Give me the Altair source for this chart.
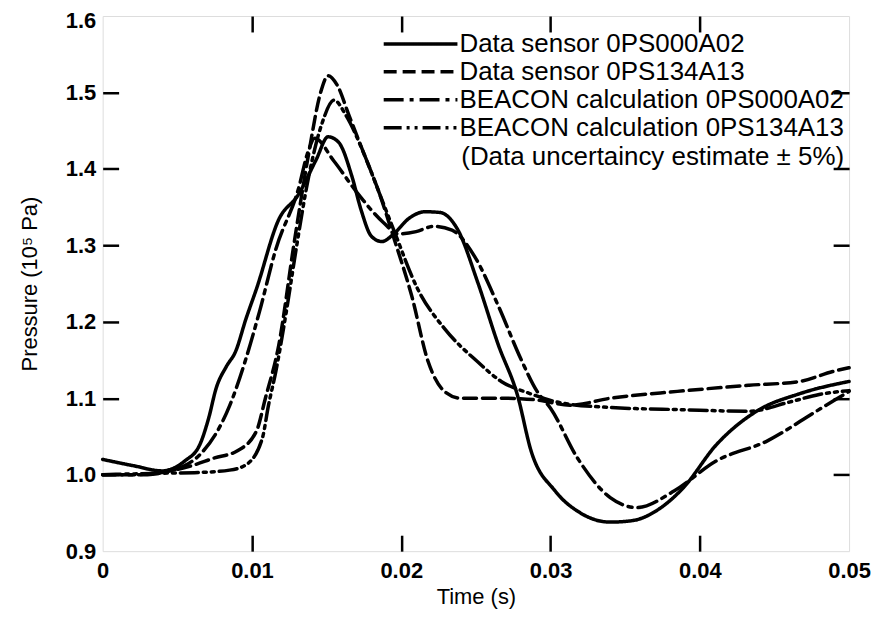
import altair as alt
import pandas as pd

series_names = [
    "Data sensor 0PS000A02",
    "Data sensor 0PS134A13",
    "BEACON calculation 0PS000A02",
    "BEACON calculation 0PS134A13",
]
note_text = "(Data uncertaincy estimate \u00b1 5%)"

x_ticks = [0, 0.01, 0.02, 0.03, 0.04, 0.05]
y_ticks = [0.9, 1.0, 1.1, 1.2, 1.3, 1.4, 1.5, 1.6]

# Data sensor 0PS000A02 (solid)
t_solid = [0, 0.002, 0.004, 0.0055, 0.0065, 0.0071, 0.0076, 0.0083, 0.0089, 0.0096,
           0.0103, 0.0118, 0.0131, 0.0143, 0.0151, 0.0158, 0.0167, 0.0173, 0.018,
           0.0187, 0.0195, 0.0205, 0.0216, 0.0226, 0.0238, 0.0251, 0.0265, 0.0278,
           0.0287, 0.0303, 0.032, 0.034, 0.0355, 0.0371, 0.0389, 0.0411, 0.0438,
           0.0467, 0.05]
p_solid = [1.02, 1.012, 1.005, 1.018, 1.039, 1.074, 1.113, 1.142, 1.161, 1.204,
           1.243, 1.334, 1.366, 1.412, 1.442, 1.435, 1.39, 1.347, 1.312,
           1.305, 1.315, 1.335, 1.344, 1.343, 1.32, 1.253, 1.17, 1.103,
           1.031, 0.979, 0.95, 0.938, 0.94, 0.953, 0.983, 1.039, 1.083,
           1.106, 1.122]

# Data sensor 0PS134A13 (dashed)
t_dash = [0, 0.002, 0.004, 0.006, 0.0075, 0.009, 0.0103, 0.0109, 0.0118, 0.0128,
          0.0138, 0.0146, 0.0151, 0.0157, 0.0165, 0.0175, 0.0185, 0.0195, 0.0207,
          0.0218, 0.0229, 0.024, 0.027, 0.029, 0.0313, 0.034, 0.0385, 0.0433,
          0.0467, 0.0489, 0.05]
p_dash = [1.0, 1.0, 1.003, 1.012, 1.022, 1.031, 1.057, 1.10, 1.17, 1.30,
          1.42, 1.50, 1.522, 1.51, 1.47, 1.42, 1.37, 1.31, 1.234,
          1.148, 1.109, 1.10, 1.10, 1.098, 1.091, 1.10, 1.109, 1.117,
          1.122, 1.135, 1.14]

# BEACON calculation 0PS000A02 (dash-dot)
t_dd = [0, 0.003, 0.0045, 0.0055, 0.0065, 0.0085, 0.0096, 0.0105, 0.0116, 0.0131,
        0.0138, 0.0142, 0.0155, 0.017, 0.0188, 0.0198, 0.021, 0.0222, 0.0234,
        0.0249, 0.0265, 0.028, 0.0291, 0.03, 0.0318, 0.034, 0.0358, 0.0383,
        0.0411, 0.0445, 0.0478, 0.05]
p_dd = [1.0, 1.0, 1.005, 1.012, 1.026, 1.09, 1.152, 1.213, 1.295, 1.373,
        1.425, 1.44, 1.41, 1.37, 1.33, 1.315, 1.318, 1.325, 1.32,
        1.286, 1.221, 1.152, 1.109, 1.087, 1.022, 0.97, 0.957, 0.979,
        1.018, 1.044, 1.083, 1.109]

# BEACON calculation 0PS134A13 (dash-dot-dot)
t_ddd = [0, 0.004, 0.0065, 0.0085, 0.0096, 0.0107, 0.0111, 0.0116, 0.0123, 0.013,
         0.0138, 0.0147, 0.0155, 0.0163, 0.0175, 0.0185, 0.0195, 0.0211, 0.0229,
         0.0251, 0.0267, 0.0285, 0.0307, 0.034, 0.0389, 0.0433, 0.046, 0.048, 0.05]
p_ddd = [1.0, 1.002, 1.003, 1.006, 1.013, 1.048, 1.09, 1.135, 1.213, 1.30,
         1.39, 1.46, 1.49, 1.47, 1.42, 1.37, 1.32, 1.243, 1.191,
         1.148, 1.122, 1.107, 1.094, 1.088, 1.085, 1.083, 1.095, 1.105, 1.11]

rows = []
for name, ts, ps in zip(series_names,
                        [t_solid, t_dash, t_dd, t_ddd],
                        [p_solid, p_dash, p_dd, p_ddd]):
    for t, p in zip(ts, ps):
        rows.append({"t": t, "p": p, "series": name})
df = pd.DataFrame(rows)

dash_styles = [[1, 0], [13, 6], [20, 6, 4, 6], [18, 5, 3, 5, 3, 5]]

FONT = "Liberation Sans"
TICK = 16

xscale = alt.Scale(domain=[0, 0.05], nice=False, zero=False)
yscale = alt.Scale(domain=[0.9, 1.6], nice=False, zero=False)

lines = alt.Chart(df).mark_line(
    color="black", strokeWidth=3.5, interpolate="monotone", strokeCap="round"
).encode(
    x=alt.X("t:Q", scale=xscale, axis=alt.Axis(
        values=x_ticks, title="Time (s)", ticks=False, domain=False, grid=False,
        labelExpr="datum.value == 0 ? '0' : format(datum.value, '.2f')",
        labelFlush=False, labelOverlap=False, labelPadding=9, labelFontSize=22,
        labelFontWeight="bold", labelFont=FONT, labelColor="black",
        titleFont=FONT, titleFontSize=22,
        titleFontWeight="normal", titleColor="black", titlePadding=6)),
    y=alt.Y("p:Q", scale=yscale, axis=alt.Axis(
        values=y_ticks, title="Pressure (10\u2075 Pa)", ticks=False, domain=False,
        grid=False, format=".1f", labelFlush=False, labelOverlap=False,
        labelPadding=7,
        labelOffset={"condition": {"test": "datum.value >= 1.55", "value": 5}, "value": 0},
        labelFontSize=22, labelFontWeight="bold",
        labelFont=FONT, labelColor="black", titleFont=FONT, titleFontSize=22,
        titleFontWeight="normal", titleColor="black", titlePadding=24)),
    strokeDash=alt.StrokeDash("series:N", scale=alt.Scale(domain=series_names, range=dash_styles),
        legend=alt.Legend(
            orient="none", legendX=280, legendY=14, symbolType="stroke",
            symbolSize=5476, symbolStrokeWidth=3.5, symbolStrokeColor="black",
            clipHeight=28, rowPadding=0, labelOffset=0, labelFontSize=26,
            labelFont=FONT, labelColor="black", labelLimit=0,
            title=note_text, titleOrient="bottom", titleAnchor="end",
            titleFontSize=26, titleFont=FONT, titleFontWeight="normal",
            titleColor="black", titlePadding=2, titleLimit=0)),
)

ticks_bl = alt.Chart(df).mark_point(opacity=0).encode(
    x=alt.X("t:Q", scale=xscale, axis=alt.Axis(
        orient="bottom", values=x_ticks[1:-1], labels=False, domain=False, grid=False,
        title=None, tickSize=TICK, tickWidth=2.5, tickColor="black", offset=-TICK)),
    y=alt.Y("p:Q", scale=yscale, axis=alt.Axis(
        orient="left", values=y_ticks[1:-1], labels=False, domain=False, grid=False,
        title=None, tickSize=TICK, tickWidth=2.5, tickColor="black", offset=-TICK)),
)

ticks_tr = alt.Chart(df).mark_point(opacity=0).encode(
    x=alt.X("t:Q", scale=xscale, axis=alt.Axis(
        orient="top", values=x_ticks[1:-1], labels=False, domain=False, grid=False,
        title=None, tickSize=TICK, tickWidth=2.5, tickColor="black", offset=-TICK)),
    y=alt.Y("p:Q", scale=yscale, axis=alt.Axis(
        orient="right", values=y_ticks[1:-1], labels=False, domain=False, grid=False,
        title=None, tickSize=TICK, tickWidth=2.5, tickColor="black", offset=-TICK)),
)

chart = alt.layer(lines, ticks_bl, ticks_tr).resolve_axis(
    x="independent", y="independent"
).properties(
    width=749, height=537,
    autosize=alt.AutoSizeParams(type="none"),
    padding={"left": 95, "top": 7, "right": 26, "bottom": 60},
).configure_view(
    stroke="black", strokeWidth=2.5
).configure(background="white")

chart.save("out.html", embed_options={"renderer": "svg", "actions": False})
